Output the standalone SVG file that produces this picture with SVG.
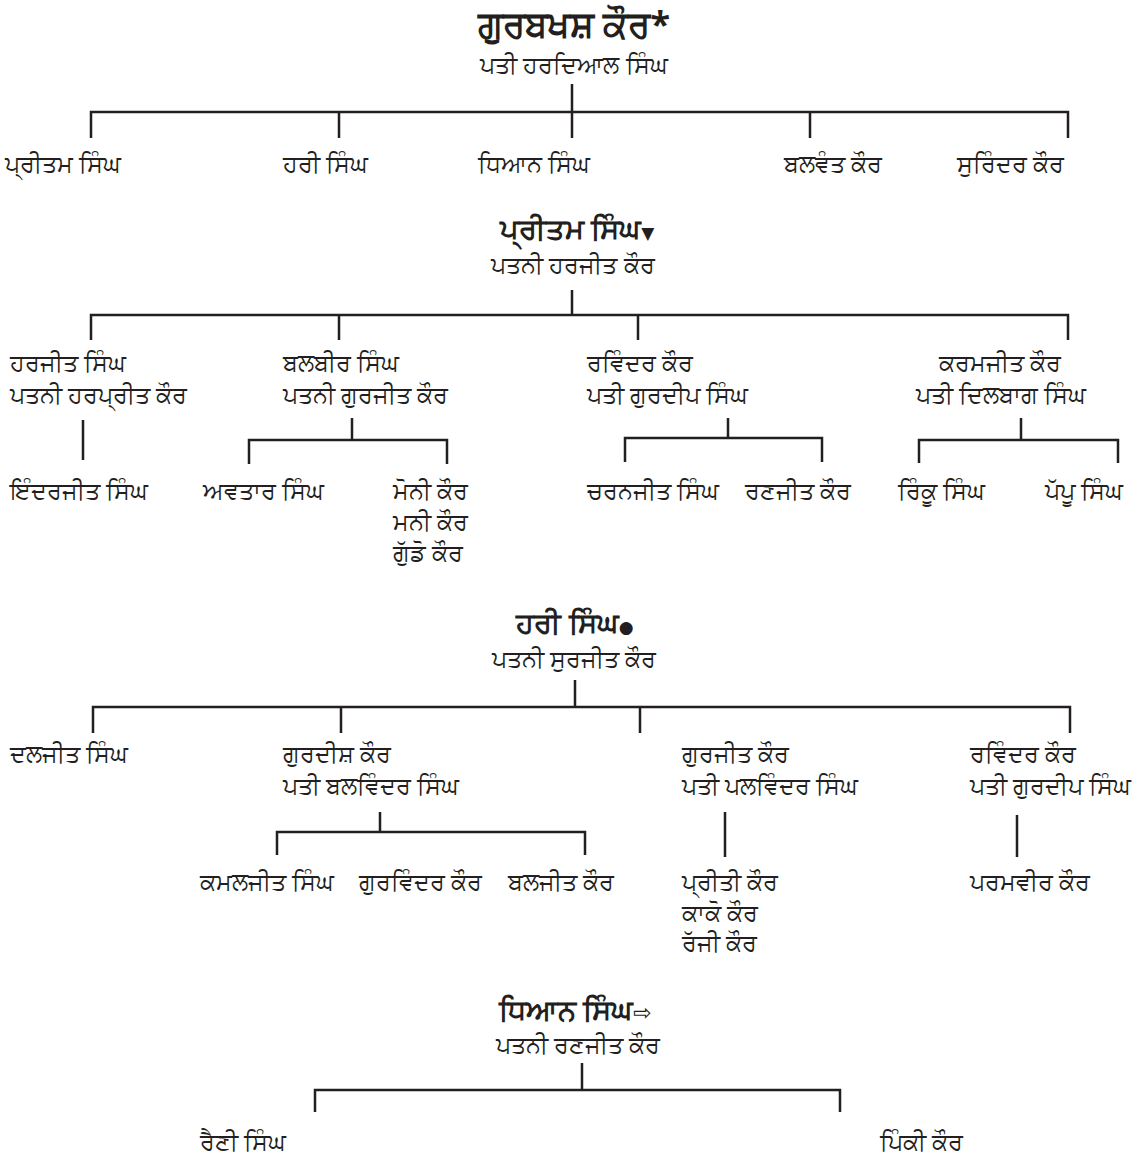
<svg xmlns="http://www.w3.org/2000/svg" width="1144" height="1169" viewBox="0 0 1144 1169">
<style>
text{font-family:"Noto Sans","DejaVu Sans",sans-serif;fill:#231f20;font-size:24px}
.t{font-size:29px;font-weight:bold;text-anchor:middle}
.t1{font-size:36px}
.s{font-size:17px;font-weight:normal}
.a{font-family:"DejaVu Sans",sans-serif;font-size:22px;font-weight:normal}
.c{text-anchor:middle}
.l{fill:none;stroke:#231f20;stroke-width:2.5}
</style>
<rect width="1144" height="1169" fill="#fff"/>
<g id="connectors">
<path class="l" d="M572 84V112M91 138V112H1068V138M339 112V138M572 112V138M810 112V138"/>
<path class="l" d="M572 290V315M91 340V315H1068V340M339 315V340M638 315V340"/>
<path class="l" d="M83 420V460M352 418V440M249 464V440H447V464M728 418V438M625 462V438H822V462M1021 418V440M919 463V440H1118V463"/>
<path class="l" d="M575 680V707M93 733V707H1070V733M341 707V733M640 707V733"/>
<path class="l" d="M380 812V832M277 855V832H585V855M725 812V857M1017 815V857"/>
<path class="l" d="M582 1063V1090M315 1112V1090H840V1112"/>
</g>
<g id="n-gurbakhsh"><text class="t t1" x="574" y="37">ਗੁਰਬਖਸ਼ ਕੌਰ*</text><text class="c" x="574" y="73">ਪਤੀ ਹਰਦਿਆਲ ਸਿੰਘ</text></g>
<g id="n-g1"><text x="5" y="172">ਪ੍ਰੀਤਮ ਸਿੰਘ</text></g>
<g id="n-g2"><text x="283" y="172">ਹਰੀ ਸਿੰਘ</text></g>
<g id="n-g3"><text x="478" y="172">ਧਿਆਨ ਸਿੰਘ</text></g>
<g id="n-g4"><text x="784" y="172">ਬਲਵੰਤ ਕੌਰ</text></g>
<g id="n-g5"><text x="957" y="172">ਸੁਰਿੰਦਰ ਕੌਰ</text></g>

<g id="n-pritam"><text class="t" x="577" y="239">ਪ੍ਰੀਤਮ ਸਿੰਘ<tspan class="s">▼</tspan></text><text class="c" x="573" y="273">ਪਤਨੀ ਹਰਜੀਤ ਕੌਰ</text></g>
<g id="n-harjit"><text x="10" y="371">ਹਰਜੀਤ ਸਿੰਘ</text><text x="10" y="403">ਪਤਨੀ ਹਰਪ੍ਰੀਤ ਕੌਰ</text></g>
<g id="n-balbir"><text x="283" y="371">ਬਲਬੀਰ ਸਿੰਘ</text><text x="283" y="403">ਪਤਨੀ ਗੁਰਜੀਤ ਕੌਰ</text></g>
<g id="n-ravinder1"><text x="587" y="371">ਰਵਿੰਦਰ ਕੌਰ</text><text x="587" y="403">ਪਤੀ ਗੁਰਦੀਪ ਸਿੰਘ</text></g>
<g id="n-karamjit"><text class="c" x="1000" y="371">ਕਰਮਜੀਤ ਕੌਰ</text><text class="c" x="1001" y="403">ਪਤੀ ਦਿਲਬਾਗ ਸਿੰਘ</text></g>
<g id="n-inderjit"><text x="10" y="499">ਇੰਦਰਜੀਤ ਸਿੰਘ</text></g>
<g id="n-avtar"><text x="203" y="499">ਅਵਤਾਰ ਸਿੰਘ</text></g>
<g id="n-moni"><text x="393" y="499">ਮੋਨੀ ਕੌਰ</text><text x="393" y="530">ਮਨੀ ਕੌਰ</text><text x="393" y="561">ਗੁੱਡੋ ਕੌਰ</text></g>
<g id="n-charanjit"><text x="587" y="499">ਚਰਨਜੀਤ ਸਿੰਘ</text></g>
<g id="n-ranjit1"><text x="745" y="499">ਰਣਜੀਤ ਕੌਰ</text></g>
<g id="n-rinku"><text x="898" y="499">ਰਿੰਕੂ ਸਿੰਘ</text></g>
<g id="n-pappu"><text x="1045" y="499">ਪੱਪੂ ਸਿੰਘ</text></g>

<g id="n-hari"><text class="t" x="575" y="633">ਹਰੀ ਸਿੰਘ<tspan class="s">●</tspan></text><text class="c" x="574" y="667">ਪਤਨੀ ਸੁਰਜੀਤ ਕੌਰ</text></g>
<g id="n-daljit"><text x="10" y="762">ਦਲਜੀਤ ਸਿੰਘ</text></g>
<g id="n-gurdish"><text x="283" y="762">ਗੁਰਦੀਸ਼ ਕੌਰ</text><text x="283" y="794">ਪਤੀ ਬਲਵਿੰਦਰ ਸਿੰਘ</text></g>
<g id="n-gurjit"><text x="682" y="762">ਗੁਰਜੀਤ ਕੌਰ</text><text x="682" y="794">ਪਤੀ ਪਲਵਿੰਦਰ ਸਿੰਘ</text></g>
<g id="n-ravinder2"><text x="970" y="762">ਰਵਿੰਦਰ ਕੌਰ</text><text x="970" y="794">ਪਤੀ ਗੁਰਦੀਪ ਸਿੰਘ</text></g>
<g id="n-kamaljit"><text x="200" y="890">ਕਮਲਜੀਤ ਸਿੰਘ</text></g>
<g id="n-gurvinder"><text x="359" y="890">ਗੁਰਵਿੰਦਰ ਕੌਰ</text></g>
<g id="n-baljit"><text x="508" y="890">ਬਲਜੀਤ ਕੌਰ</text></g>
<g id="n-priti"><text x="682" y="890">ਪ੍ਰੀਤੀ ਕੌਰ</text><text x="682" y="921">ਕਾਕੋ ਕੌਰ</text><text x="682" y="951">ਰੱਜੀ ਕੌਰ</text></g>
<g id="n-paramvir"><text x="970" y="890">ਪਰਮਵੀਰ ਕੌਰ</text></g>

<g id="n-dhian"><text class="t" x="575" y="1020">ਧਿਆਨ ਸਿੰਘ<tspan class="a">⇨</tspan></text><text class="c" x="578" y="1053">ਪਤਨੀ ਰਣਜੀਤ ਕੌਰ</text></g>
<g id="n-raini"><text x="200" y="1150">ਰੈਣੀ ਸਿੰਘ</text></g>
<g id="n-pinki"><text x="880" y="1150">ਪਿੰਕੀ ਕੌਰ</text></g>
</svg>
